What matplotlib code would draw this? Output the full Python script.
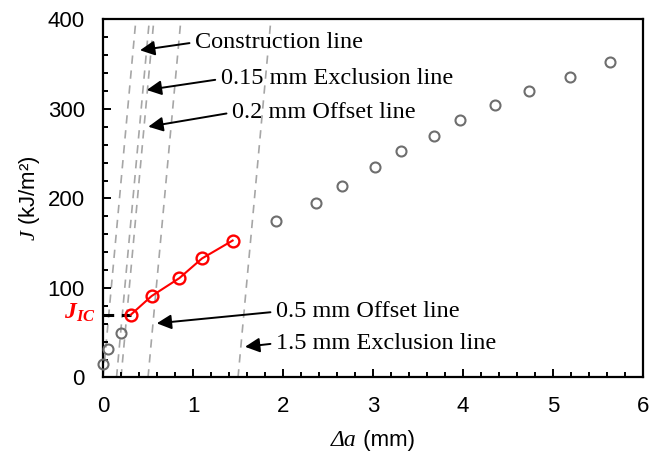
import numpy as np
import matplotlib
matplotlib.use("Agg")
import matplotlib.pyplot as plt
from matplotlib.ticker import MultipleLocator
from matplotlib.offsetbox import TextArea, HPacker, AnchoredOffsetbox

plt.rcParams['font.family'] = ['Liberation Sans', 'DejaVu Sans']
plt.rcParams['mathtext.fontset'] = 'custom'
plt.rcParams['mathtext.it'] = 'Liberation Serif:italic'
plt.rcParams['mathtext.bf'] = 'Liberation Serif:italic:bold'
plt.rcParams['mathtext.rm'] = 'Liberation Serif'

# J-R data
gray_da = [0.0, 0.06, 0.196, 1.92, 2.37, 2.66, 3.02, 3.31, 3.68, 3.97, 4.36, 4.73, 5.19, 5.63]
gray_j = [15, 31.5, 50, 175, 195, 214, 235, 253, 270, 288, 304, 320.5, 336, 353]
red_da = [0.307, 0.54, 0.848, 1.10, 1.44]
red_j = [70, 91, 111, 133, 153]
jic_value = 70

# construction / exclusion / offset lines
line_offsets = [0.0, 0.15, 0.2, 0.5, 1.5]
line_slope = 1095  # kJ/m^2 per mm

# annotations: label, arrow head (x, y), text start (x, y)
ann_labels = ["Construction line", "0.15 mm Exclusion line", "0.2 mm Offset line",
              "0.5 mm Offset line", "1.5 mm Exclusion line"]
ann_heads = [(0.411, 365.6), (0.486, 321.2), (0.503, 280.2), (0.597, 60.5), (1.578, 34.3)]
ann_text = [(1.022, 374.5), (1.308, 333.5), (1.433, 296), (1.922, 73.5), (1.922, 38.2)]

fig = plt.figure(figsize=(6.63, 4.53), dpi=100)
ax = fig.add_axes([0.1554, 0.1667, 0.8144, 0.7903])

# dashed gray lines
jj = np.array([0, 400])
for x0 in line_offsets:
    ax.plot(x0 + jj / line_slope, jj, color='#a6a6a6', lw=1.2, linestyle=(0, (5, 4)), zorder=1)

# J_IC marker line
ax.plot([0, red_da[0]], [jic_value, jic_value], color='k', lw=2.2, linestyle=(0, (3.5, 2.5)), zorder=2)

ax.plot(gray_da, gray_j, linestyle='none', marker='o', ms=7.2, mfc='none', mec='#6e6e6e', mew=1.5,
        clip_on=False, zorder=3)
ax.plot(red_da, red_j, color='red', lw=1.5, marker='o', ms=8.5, mfc='none', mec='red', mew=1.7,
        clip_on=False, zorder=4)

for lab, head, txt in zip(ann_labels, ann_heads, ann_text):
    ax.annotate(lab, xy=head, xytext=txt, ha='left', va='center', fontsize=17.5,
                family='Liberation Serif',
                arrowprops=dict(arrowstyle='-|>', color='k', lw=1.4, mutation_scale=22,
                                shrinkA=2, shrinkB=0, relpos=(0, 0.5)))

ax.text(-0.08, jic_value + 2, r'$\mathbf{J}_{\mathbf{IC}}$', color='red', fontsize=17,
        ha='right', va='center')

ax.set_xlim(0, 6)
ax.set_ylim(0, 400)
ax.xaxis.set_major_locator(MultipleLocator(1))
ax.xaxis.set_minor_locator(MultipleLocator(0.2))
ax.yaxis.set_major_locator(MultipleLocator(100))
ax.yaxis.set_minor_locator(MultipleLocator(20))
ax.tick_params(which='both', direction='in', top=False, right=False, width=1.4, labelsize=16)
ax.tick_params(which='major', length=6, pad=13)
ax.tick_params(which='minor', length=3.5)
for s in ax.spines.values():
    s.set_linewidth(1.6)

# x label: italic serif "Δa" followed by sans " (mm)"
xl = HPacker(children=[TextArea("Δa", textprops=dict(family='Liberation Serif', style='italic', fontsize=17)),
                       TextArea(" (mm)", textprops=dict(family='Liberation Sans', fontsize=16))],
             align='baseline', pad=0, sep=0)
ax.add_artist(AnchoredOffsetbox(loc='center', child=xl, bbox_to_anchor=(0.5, -0.175),
                                bbox_transform=ax.transAxes, frameon=False, pad=0, borderpad=0))
ax.set_ylabel(r'$\mathit{J}$ (kJ/m²)', fontsize=16, labelpad=4)

fig.savefig("out.png", dpi=100)
